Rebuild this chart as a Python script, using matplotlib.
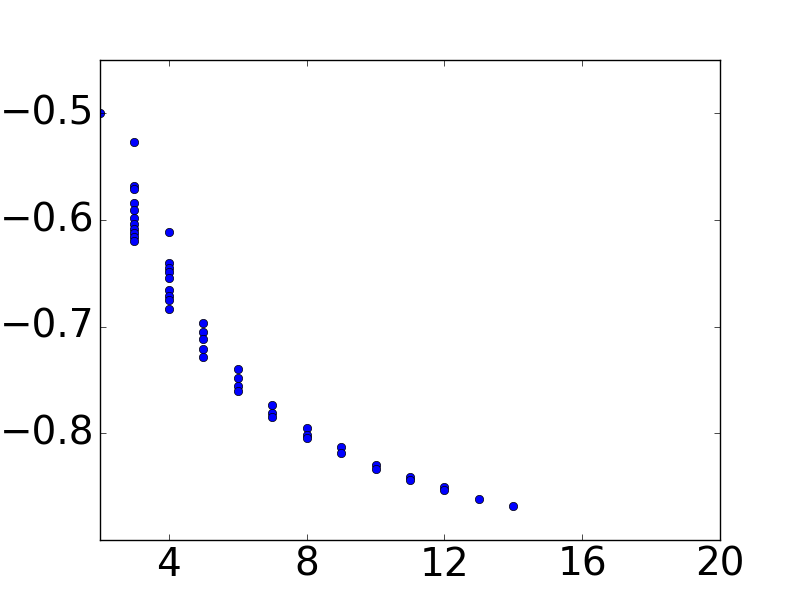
import numpy as np
import matplotlib
matplotlib.use('Agg')
import matplotlib.pyplot as plt

plt.style.use('classic')

# values, grouped by x
x_vals = [2,
          3, 3, 3, 3, 3, 3, 3, 3, 3, 3, 3,
          4, 4, 4, 4, 4, 4, 4, 4, 4,
          5, 5, 5, 5, 5,
          6, 6, 6, 6,
          7, 7, 7,
          8, 8, 8,
          9, 9,
          10, 10,
          11, 11,
          12, 12,
          13,
          14]
y_vals = [-0.500,
          -0.527, -0.568, -0.571, -0.584, -0.591, -0.598, -0.604, -0.608, -0.612, -0.616, -0.620,
          -0.611, -0.640, -0.645, -0.649, -0.654, -0.666, -0.671, -0.675, -0.683,
          -0.697, -0.705, -0.712, -0.721, -0.728,
          -0.740, -0.748, -0.756, -0.760,
          -0.773, -0.781, -0.785,
          -0.795, -0.802, -0.804,
          -0.813, -0.818,
          -0.830, -0.833,
          -0.841, -0.844,
          -0.850, -0.853,
          -0.862,
          -0.868]

fig, ax = plt.subplots(figsize=(8, 6), dpi=100)
ax.plot(x_vals, y_vals, 'bo', markersize=6)

ax.set_xlim(2, 20)
ax.set_ylim(-0.9, -0.45)
ax.set_xticks([4, 8, 12, 16, 20])
ax.set_yticks([-0.8, -0.7, -0.6, -0.5])
ax.tick_params(labelsize=28)

plt.savefig('out.png', dpi=100)
